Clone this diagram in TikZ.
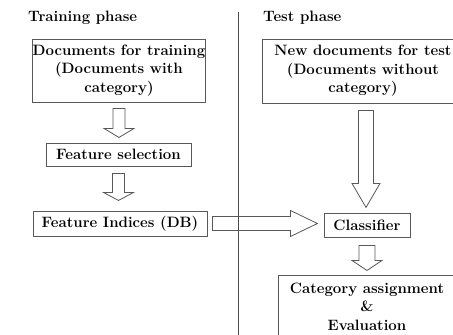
\documentclass[tikz,border=0pt]{standalone}
\usepackage{fontspec}
\usetikzlibrary{calc}
\newcommand{\blkdown}[5]{%
  \draw[blk] (#1) ++(-#3,0) -- ++(0,{#2-#5}) -- ++({#3-#4},0) -- ++(#4,#5) -- ++(#4,-#5) -- ++({#3-#4},0) -- ++(0,{#5-#2}) -- cycle;}
\newcommand{\blkright}[5]{%
  \draw[blk] (#1) ++(0,-#3) -- ++({#2-#5},0) -- ++(0,{#3-#4}) -- ++(#5,#4) -- ++(-#5,#4) -- ++(0,{#3-#4}) -- ++({#5-#2},0) -- cycle;}
\tikzset{
  txt/.style={font=\fontsize{15}{18.5}\selectfont\bfseries, text=black, inner sep=0pt},
  box/.style={txt, draw=black!65, line width=0.9pt, align=center},
  blk/.style={draw=black!65, line width=0.8pt, line join=miter},
}
\begin{document}
\begin{tikzpicture}[x=1pt,y=-1pt]
\useasboundingbox (0,0) rectangle (453,335);
\clip (0,0) rectangle (453,335);
\draw[black!70, line width=0.8pt] (238,12) -- (238,335);
\node[txt, anchor=west] (trp) at (28,18) {Training phase};
\node[txt, anchor=west] (tsp) at (263,18) {Test phase};
\node[box, minimum width=168pt, minimum height=63pt] (docs) at (119,70.5)
  {Documents for training\\(Documents with\\category)};
\node[box, minimum width=145pt, minimum height=23pt] (fs) at (118.5,154.5) {Feature selection};
\node[box, minimum width=174pt, minimum height=25pt] (fi) at (120,223.5) {Feature Indices (DB)};
\node[box, minimum width=202pt, minimum height=64pt] (test) at (363,71)
  {New documents for test\\(Documents without\\category)};
\node[box, minimum width=86pt, minimum height=24pt] (cls) at (367,225) {Classifier};
\node[box, minimum width=178pt, minimum height=62pt, anchor=north] (cat) at (367,275)
  {Category assignment\\\&\\Evaluation};
\blkdown{$(docs.south)+(0,6)$}{29}{6}{15}{9}
\blkdown{$(fs.south)+(0,7)$}{27}{6}{15}{8}
\blkright{$(fi.east)+(5,0)$}{105}{7}{13}{27}
\blkdown{$(cls.north |- test.south)+(-1,7)$}{97}{7.5}{14}{24}
\blkdown{$(cls.south)+(0,8)$}{25}{8}{15}{10}
\end{tikzpicture}
\end{document}
